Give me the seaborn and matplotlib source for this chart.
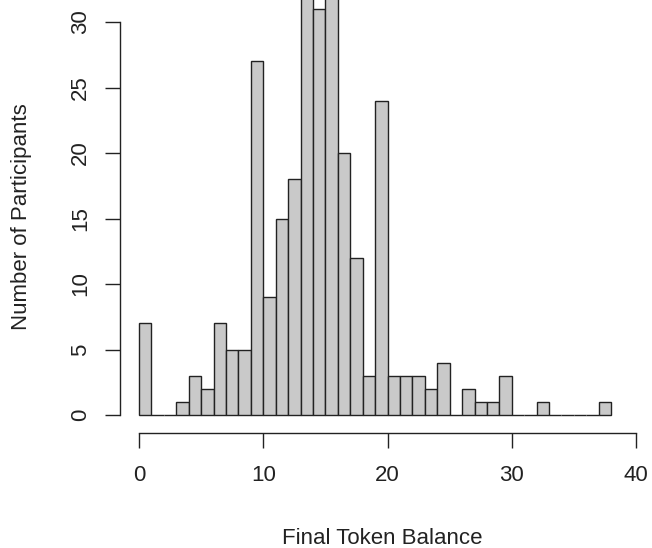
import numpy as np
import pandas as pd
import matplotlib
matplotlib.use("Agg")
from matplotlib import pyplot as plt
import seaborn as sns

# counts per 1-token bin, [0,1) ... [37,38)
bin_edges = list(range(0, 39))
counts = [7, 0, 0, 1, 3, 2, 7, 5, 5, 27,
          9, 15, 18, 36, 31, 34, 20, 12, 3, 24,
          3, 3, 3, 2, 4, 0, 2, 1, 1, 3,
          0, 0, 1, 0, 0, 0, 0, 1]
x_ticks = [0, 10, 20, 30, 40]
y_ticks = [0, 5, 10, 15, 20, 25, 30]

df = pd.DataFrame({"balance": np.array(bin_edges[:-1]) + 0.5, "n": counts})

sns.set_style("white")
plt.rcParams['font.family'] = ['Liberation Sans', 'DejaVu Sans']

fig = plt.figure(figsize=(6.52, 5.48), dpi=100)
ax = fig.add_axes([120 / 652, 1 - 433 / 548, 525 / 652, 433 / 548])

sns.histplot(data=df, x="balance", weights="n", bins=bin_edges, ax=ax,
             color="#c9c9c9", edgecolor="#222222", linewidth=1.0, alpha=1.0)

ax.set_xlim(-1.53, 40.72)
ax.set_ylim(-1.37, 31.68)

for s in ["top", "right"]:
    ax.spines[s].set_visible(False)
ax.spines["left"].set_bounds(0, 30)
ax.spines["bottom"].set_bounds(0, 40)
for s in ["left", "bottom"]:
    ax.spines[s].set_color("#222222")
    ax.spines[s].set_linewidth(1.0)

ax.set_xticks(x_ticks)
ax.set_yticks(y_ticks)
ax.tick_params(axis="both", direction="out", length=11, width=1.0, color="#222222",
               labelsize=16, labelcolor="#222222", bottom=True, left=True)
ax.tick_params(axis="x", pad=12)
ax.tick_params(axis="y", pad=10)
plt.setp(ax.get_yticklabels(), rotation=90, va="center")

ax.set_xlabel("Final Token Balance", fontsize=16, color="#222222", labelpad=30)
ax.set_ylabel("Number of Participants", fontsize=16, color="#222222", labelpad=27)

fig.savefig("out.png", dpi=100)
